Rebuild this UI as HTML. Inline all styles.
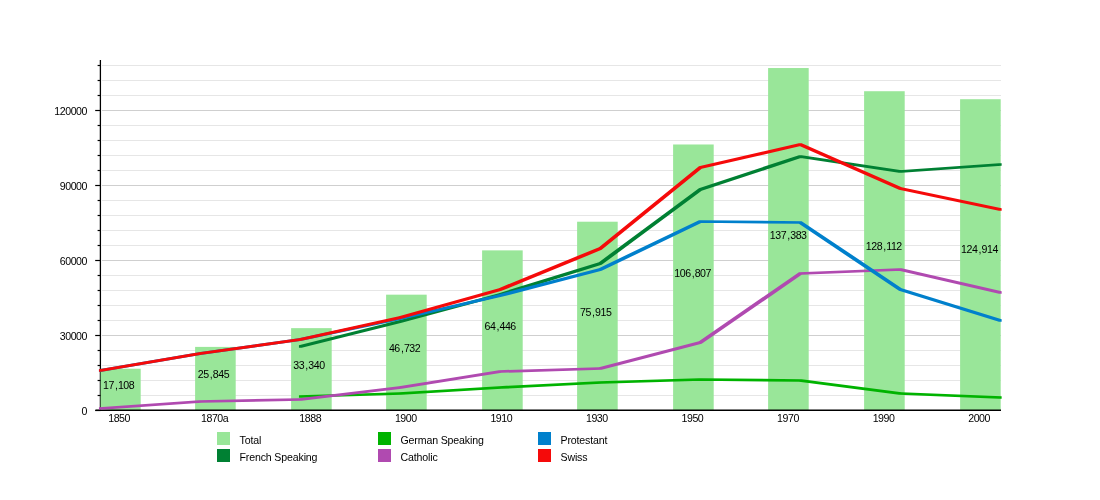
<!DOCTYPE html>
<html lang="en"><head><meta charset="utf-8"><title>Lausanne population</title>
<style>html,body{margin:0;padding:0;background:#fff}body{width:1100px;height:500px;overflow:hidden}svg{display:block}text{font-family:"Liberation Sans",Arial,Helvetica,sans-serif;font-size:10.6px;fill:#000;letter-spacing:-0.45px}.lg{letter-spacing:-0.15px}</style></head><body>
<svg width="1100" height="500" viewBox="0 0 1100 500">
<rect width="1100" height="500" fill="#fff"/>
<line x1="102" x2="1001" y1="395.50" y2="395.50" stroke="#e6e6e6" stroke-width="1.2"/>
<line x1="102" x2="1001" y1="380.50" y2="380.50" stroke="#e6e6e6" stroke-width="1.2"/>
<line x1="102" x2="1001" y1="365.50" y2="365.50" stroke="#e6e6e6" stroke-width="1.2"/>
<line x1="102" x2="1001" y1="350.50" y2="350.50" stroke="#e6e6e6" stroke-width="1.2"/>
<line x1="102" x2="1001" y1="335.50" y2="335.50" stroke="#cfcfcf" stroke-width="1.2"/>
<line x1="102" x2="1001" y1="320.50" y2="320.50" stroke="#e6e6e6" stroke-width="1.2"/>
<line x1="102" x2="1001" y1="305.50" y2="305.50" stroke="#e6e6e6" stroke-width="1.2"/>
<line x1="102" x2="1001" y1="290.50" y2="290.50" stroke="#e6e6e6" stroke-width="1.2"/>
<line x1="102" x2="1001" y1="275.50" y2="275.50" stroke="#e6e6e6" stroke-width="1.2"/>
<line x1="102" x2="1001" y1="260.50" y2="260.50" stroke="#cfcfcf" stroke-width="1.2"/>
<line x1="102" x2="1001" y1="245.50" y2="245.50" stroke="#e6e6e6" stroke-width="1.2"/>
<line x1="102" x2="1001" y1="230.50" y2="230.50" stroke="#e6e6e6" stroke-width="1.2"/>
<line x1="102" x2="1001" y1="215.50" y2="215.50" stroke="#e6e6e6" stroke-width="1.2"/>
<line x1="102" x2="1001" y1="200.50" y2="200.50" stroke="#e6e6e6" stroke-width="1.2"/>
<line x1="102" x2="1001" y1="185.50" y2="185.50" stroke="#cfcfcf" stroke-width="1.2"/>
<line x1="102" x2="1001" y1="170.50" y2="170.50" stroke="#e6e6e6" stroke-width="1.2"/>
<line x1="102" x2="1001" y1="155.50" y2="155.50" stroke="#e6e6e6" stroke-width="1.2"/>
<line x1="102" x2="1001" y1="140.50" y2="140.50" stroke="#e6e6e6" stroke-width="1.2"/>
<line x1="102" x2="1001" y1="125.50" y2="125.50" stroke="#e6e6e6" stroke-width="1.2"/>
<line x1="102" x2="1001" y1="110.50" y2="110.50" stroke="#cfcfcf" stroke-width="1.2"/>
<line x1="102" x2="1001" y1="95.50" y2="95.50" stroke="#e6e6e6" stroke-width="1.2"/>
<line x1="102" x2="1001" y1="80.50" y2="80.50" stroke="#e6e6e6" stroke-width="1.2"/>
<line x1="102" x2="1001" y1="65.50" y2="65.50" stroke="#e6e6e6" stroke-width="1.2"/>
<line x1="100.4" x2="100.4" y1="60" y2="411" stroke="#000" stroke-width="1.3"/>
<rect x="100.60" y="368.73" width="40.1" height="42.27" fill="#99e699"/>
<rect x="195.10" y="346.89" width="40.6" height="64.11" fill="#99e699"/>
<rect x="291.10" y="328.15" width="40.6" height="82.85" fill="#99e699"/>
<rect x="386.10" y="294.67" width="40.6" height="116.33" fill="#99e699"/>
<rect x="482.10" y="250.38" width="40.6" height="160.62" fill="#99e699"/>
<rect x="577.10" y="221.71" width="40.6" height="189.29" fill="#99e699"/>
<rect x="673.10" y="144.48" width="40.6" height="266.52" fill="#99e699"/>
<rect x="768.10" y="68.04" width="40.6" height="342.96" fill="#99e699"/>
<rect x="864.10" y="91.22" width="40.6" height="319.78" fill="#99e699"/>
<rect x="960.10" y="99.21" width="40.6" height="311.79" fill="#99e699"/>
<line x1="95.5" x2="1001" y1="410.2" y2="410.2" stroke="#000" stroke-width="1.5"/>
<line x1="95.2" x2="100.5" y1="410.50" y2="410.50" stroke="#000" stroke-width="1.2"/>
<line x1="97.6" x2="100.5" y1="395.50" y2="395.50" stroke="#000" stroke-width="1.2"/>
<line x1="97.6" x2="100.5" y1="380.50" y2="380.50" stroke="#000" stroke-width="1.2"/>
<line x1="97.6" x2="100.5" y1="365.50" y2="365.50" stroke="#000" stroke-width="1.2"/>
<line x1="97.6" x2="100.5" y1="350.50" y2="350.50" stroke="#000" stroke-width="1.2"/>
<line x1="95.2" x2="100.5" y1="335.50" y2="335.50" stroke="#000" stroke-width="1.2"/>
<line x1="97.6" x2="100.5" y1="320.50" y2="320.50" stroke="#000" stroke-width="1.2"/>
<line x1="97.6" x2="100.5" y1="305.50" y2="305.50" stroke="#000" stroke-width="1.2"/>
<line x1="97.6" x2="100.5" y1="290.50" y2="290.50" stroke="#000" stroke-width="1.2"/>
<line x1="97.6" x2="100.5" y1="275.50" y2="275.50" stroke="#000" stroke-width="1.2"/>
<line x1="95.2" x2="100.5" y1="260.50" y2="260.50" stroke="#000" stroke-width="1.2"/>
<line x1="97.6" x2="100.5" y1="245.50" y2="245.50" stroke="#000" stroke-width="1.2"/>
<line x1="97.6" x2="100.5" y1="230.50" y2="230.50" stroke="#000" stroke-width="1.2"/>
<line x1="97.6" x2="100.5" y1="215.50" y2="215.50" stroke="#000" stroke-width="1.2"/>
<line x1="97.6" x2="100.5" y1="200.50" y2="200.50" stroke="#000" stroke-width="1.2"/>
<line x1="95.2" x2="100.5" y1="185.50" y2="185.50" stroke="#000" stroke-width="1.2"/>
<line x1="97.6" x2="100.5" y1="170.50" y2="170.50" stroke="#000" stroke-width="1.2"/>
<line x1="97.6" x2="100.5" y1="155.50" y2="155.50" stroke="#000" stroke-width="1.2"/>
<line x1="97.6" x2="100.5" y1="140.50" y2="140.50" stroke="#000" stroke-width="1.2"/>
<line x1="97.6" x2="100.5" y1="125.50" y2="125.50" stroke="#000" stroke-width="1.2"/>
<line x1="95.2" x2="100.5" y1="110.50" y2="110.50" stroke="#000" stroke-width="1.2"/>
<line x1="97.6" x2="100.5" y1="95.50" y2="95.50" stroke="#000" stroke-width="1.2"/>
<line x1="97.6" x2="100.5" y1="80.50" y2="80.50" stroke="#000" stroke-width="1.2"/>
<line x1="97.6" x2="100.5" y1="65.50" y2="65.50" stroke="#000" stroke-width="1.2"/>
<path d="M298.95 345.15 L398.95 320.15 L401.65 320.15 L401.65 322.85 L301.65 347.85 L298.95 347.85Z M398.95 320.15 L498.95 293.15 L501.65 293.15 L501.65 295.85 L401.65 322.85 L398.95 322.85Z M498.95 293.15 L598.95 262.15 L601.65 262.15 L601.65 264.85 L501.65 295.85 L498.95 295.85Z M598.95 262.15 L698.95 188.15 L701.65 188.15 L701.65 190.85 L601.65 264.85 L598.95 264.85Z M698.95 188.15 L798.95 155.15 L801.65 155.15 L801.65 157.85 L701.65 190.85 L698.95 190.85Z M798.95 155.15 L801.65 155.15 L901.65 170.15 L901.65 172.85 L898.95 172.85 L798.95 157.85Z M898.95 170.15 L998.95 163.15 L1001.65 163.15 L1001.65 165.85 L901.65 172.85 L898.95 172.85Z" fill="#008033" fill-rule="nonzero"/>
<path d="M298.95 395.15 L398.95 392.15 L401.65 392.15 L401.65 394.85 L301.65 397.85 L298.95 397.85Z M398.95 392.15 L498.95 386.15 L501.65 386.15 L501.65 388.85 L401.65 394.85 L398.95 394.85Z M498.95 386.15 L598.95 381.15 L601.65 381.15 L601.65 383.85 L501.65 388.85 L498.95 388.85Z M598.95 381.15 L698.95 378.15 L701.65 378.15 L701.65 380.85 L601.65 383.85 L598.95 383.85Z M698.95 378.15 L701.65 378.15 L801.65 379.15 L801.65 381.85 L798.95 381.85 L698.95 380.85Z M798.95 379.15 L801.65 379.15 L901.65 392.15 L901.65 394.85 L898.95 394.85 L798.95 381.85Z M898.95 392.15 L901.65 392.15 L1001.65 396.15 L1001.65 398.85 L998.95 398.85 L898.95 394.85Z" fill="#00b300" fill-rule="nonzero"/>
<path d="M98.95 407.15 L198.95 400.15 L201.65 400.15 L201.65 402.85 L101.65 409.85 L98.95 409.85Z M198.95 400.15 L298.95 398.15 L301.65 398.15 L301.65 400.85 L201.65 402.85 L198.95 402.85Z M298.95 398.15 L398.95 386.15 L401.65 386.15 L401.65 388.85 L301.65 400.85 L298.95 400.85Z M398.95 386.15 L498.95 370.15 L501.65 370.15 L501.65 372.85 L401.65 388.85 L398.95 388.85Z M498.95 370.15 L598.95 367.15 L601.65 367.15 L601.65 369.85 L501.65 372.85 L498.95 372.85Z M598.95 367.15 L698.95 341.15 L701.65 341.15 L701.65 343.85 L601.65 369.85 L598.95 369.85Z M698.95 341.15 L798.95 272.15 L801.65 272.15 L801.65 274.85 L701.65 343.85 L698.95 343.85Z M798.95 272.15 L898.95 268.15 L901.65 268.15 L901.65 270.85 L801.65 274.85 L798.95 274.85Z M898.95 268.15 L901.65 268.15 L1001.65 291.15 L1001.65 293.85 L998.95 293.85 L898.95 270.85Z" fill="#b04ab0" fill-rule="nonzero"/>
<path d="M98.95 369.15 L198.95 352.15 L201.65 352.15 L201.65 354.85 L101.65 371.85 L98.95 371.85Z M198.95 352.15 L298.95 338.15 L301.65 338.15 L301.65 340.85 L201.65 354.85 L198.95 354.85Z M298.95 338.15 L398.95 317.15 L401.65 317.15 L401.65 319.85 L301.65 340.85 L298.95 340.85Z M398.95 317.15 L498.95 294.15 L501.65 294.15 L501.65 296.85 L401.65 319.85 L398.95 319.85Z M498.95 294.15 L598.95 268.15 L601.65 268.15 L601.65 270.85 L501.65 296.85 L498.95 296.85Z M598.95 268.15 L698.95 220.15 L701.65 220.15 L701.65 222.85 L601.65 270.85 L598.95 270.85Z M698.95 220.15 L701.65 220.15 L801.65 221.15 L801.65 223.85 L798.95 223.85 L698.95 222.85Z M798.95 221.15 L801.65 221.15 L901.65 288.15 L901.65 290.85 L898.95 290.85 L798.95 223.85Z M898.95 288.15 L901.65 288.15 L1001.65 319.15 L1001.65 321.85 L998.95 321.85 L898.95 290.85Z" fill="#0080cc" fill-rule="nonzero"/>
<path d="M98.95 369.15 L198.95 352.15 L201.65 352.15 L201.65 354.85 L101.65 371.85 L98.95 371.85Z M198.95 352.15 L298.95 338.15 L301.65 338.15 L301.65 340.85 L201.65 354.85 L198.95 354.85Z M298.95 338.15 L398.95 316.15 L401.65 316.15 L401.65 318.85 L301.65 340.85 L298.95 340.85Z M398.95 316.15 L498.95 288.15 L501.65 288.15 L501.65 290.85 L401.65 318.85 L398.95 318.85Z M498.95 288.15 L598.95 247.15 L601.65 247.15 L601.65 249.85 L501.65 290.85 L498.95 290.85Z M598.95 247.15 L698.95 166.15 L701.65 166.15 L701.65 168.85 L601.65 249.85 L598.95 249.85Z M698.95 166.15 L798.95 143.15 L801.65 143.15 L801.65 145.85 L701.65 168.85 L698.95 168.85Z M798.95 143.15 L801.65 143.15 L901.65 187.15 L901.65 189.85 L898.95 189.85 L798.95 145.85Z M898.95 187.15 L901.65 187.15 L1001.65 208.15 L1001.65 210.85 L998.95 210.85 L898.95 189.85Z" fill="#f50a0a" fill-rule="nonzero"/>
<text x="118.60" y="389.31" text-anchor="middle">17<tspan dx="1.1">,</tspan><tspan dx="0.5">108</tspan></text>
<text x="119.10" y="422.2" text-anchor="middle">1850</text>
<text x="213.46" y="378.39" text-anchor="middle">25<tspan dx="1.1">,</tspan><tspan dx="0.5">845</tspan></text>
<text x="214.66" y="422.2" text-anchor="middle">1870a</text>
<text x="309.01" y="369.02" text-anchor="middle">33<tspan dx="1.1">,</tspan><tspan dx="0.5">340</tspan></text>
<text x="310.21" y="422.2" text-anchor="middle">1888</text>
<text x="404.57" y="352.29" text-anchor="middle">46<tspan dx="1.1">,</tspan><tspan dx="0.5">732</tspan></text>
<text x="405.77" y="422.2" text-anchor="middle">1900</text>
<text x="500.12" y="330.14" text-anchor="middle">64<tspan dx="1.1">,</tspan><tspan dx="0.5">446</tspan></text>
<text x="501.32" y="422.2" text-anchor="middle">1910</text>
<text x="595.68" y="315.81" text-anchor="middle">75<tspan dx="1.1">,</tspan><tspan dx="0.5">915</tspan></text>
<text x="596.88" y="422.2" text-anchor="middle">1930</text>
<text x="692.63" y="277.19" text-anchor="middle">106<tspan dx="1.1">,</tspan><tspan dx="0.5">807</tspan></text>
<text x="692.43" y="422.2" text-anchor="middle">1950</text>
<text x="788.19" y="238.97" text-anchor="middle">137<tspan dx="1.1">,</tspan><tspan dx="0.5">383</tspan></text>
<text x="787.99" y="422.2" text-anchor="middle">1970</text>
<text x="883.84" y="249.56" text-anchor="middle">128<tspan dx="1.1">,</tspan><tspan dx="0.5">112</tspan></text>
<text x="883.54" y="422.2" text-anchor="middle">1990</text>
<text x="979.50" y="253.46" text-anchor="middle">124<tspan dx="1.1">,</tspan><tspan dx="0.5">914</tspan></text>
<text x="979.10" y="422.2" text-anchor="middle">2000</text>
<text x="87" y="414.80" text-anchor="end">0</text>
<text x="87" y="339.80" text-anchor="end">30000</text>
<text x="87" y="264.80" text-anchor="end">60000</text>
<text x="87" y="189.80" text-anchor="end">90000</text>
<text x="87" y="114.80" text-anchor="end">120000</text>
<rect x="217" y="432" width="13" height="13" fill="#99e699"/>
<text class="lg" x="239.5" y="444">Total</text>
<rect x="217" y="449" width="13" height="13" fill="#008033"/>
<text class="lg" x="239.5" y="461">French Speaking</text>
<rect x="378" y="432" width="13" height="13" fill="#00b300"/>
<text class="lg" x="400.5" y="444">German Speaking</text>
<rect x="378" y="449" width="13" height="13" fill="#b04ab0"/>
<text class="lg" x="400.5" y="461">Catholic</text>
<rect x="538" y="432" width="13" height="13" fill="#0080cc"/>
<text class="lg" x="560.5" y="444">Protestant</text>
<rect x="538" y="449" width="13" height="13" fill="#f50a0a"/>
<text class="lg" x="560.5" y="461">Swiss</text>
</svg></body></html>
